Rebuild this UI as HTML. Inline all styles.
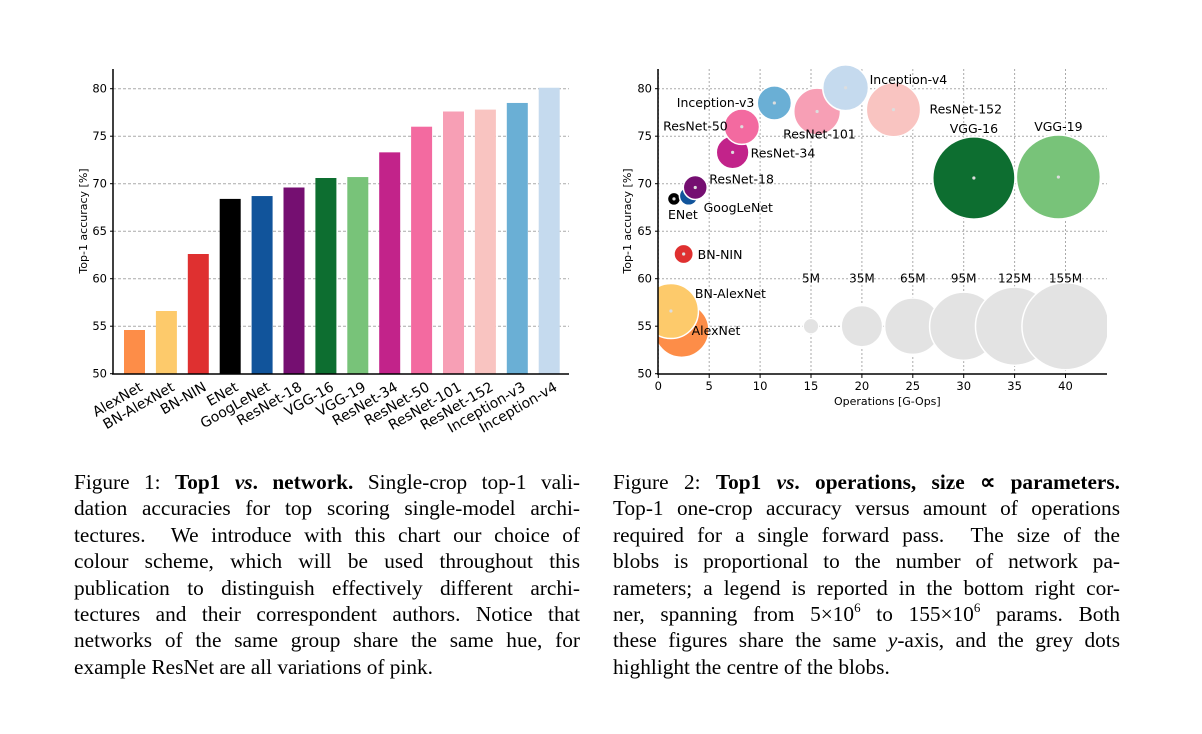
<!DOCTYPE html>
<html><head><meta charset="utf-8">
<style>
html,body{margin:0;padding:0;background:#fff;}
body{width:1202px;height:734px;position:relative;overflow:hidden;}
svg{position:absolute;left:0;top:0;}
svg text{font-family:"DejaVu Sans","Liberation Sans",sans-serif;fill:#000;}
.cap{position:absolute;top:469px;font-family:"Liberation Serif",serif;font-size:21.3px;line-height:26.4px;color:#000;}
.cap div{text-align:justify;text-align-last:justify;white-space:nowrap;height:26.4px;}
.cap div.last{text-align-last:left;}
.cap sup{font-size:13px;line-height:0;vertical-align:9px;}
</style></head><body>
<svg id="chart" width="1202" height="734"></svg>
<div class="cap" style="left:74px;width:506px">
<div>Figure 1: <b>Top1 <i>vs</i>. network.</b> Single-crop top-1 vali-</div>
<div>dation accuracies for top scoring single-model archi-</div>
<div>tectures. &nbsp;We introduce with this chart our choice of</div>
<div>colour scheme, which will be used throughout this</div>
<div>publication to distinguish effectively different archi-</div>
<div>tectures and their correspondent authors. Notice that</div>
<div>networks of the same group share the same hue, for</div>
<div class="last">example ResNet are all variations of pink.</div>
</div>
<div class="cap" style="left:613px;width:507px">
<div>Figure 2: <b>Top1 <i>vs</i>. operations, size ∝ parameters.</b></div>
<div>Top-1 one-crop accuracy versus amount of operations</div>
<div>required for a single forward pass. &nbsp;The size of the</div>
<div>blobs is proportional to the number of network pa-</div>
<div>rameters; a legend is reported in the bottom right cor-</div>
<div>ner, spanning from 5×10<sup>6</sup> to 155×10<sup>6</sup> params. Both</div>
<div>these figures share the same <i>y</i>-axis, and the grey dots</div>
<div class="last">highlight the centre of the blobs.</div>
</div>
<script>
const names=["AlexNet","BN-AlexNet","BN-NIN","ENet","GoogLeNet","ResNet-18","VGG-16","VGG-19","ResNet-34","ResNet-50","ResNet-101","ResNet-152","Inception-v3","Inception-v4"];
const accuracy=[54.6,56.6,62.6,68.4,68.7,69.6,70.6,70.7,73.3,76.0,77.6,77.8,78.5,80.1];
const ops=[2.29,1.24,2.49,1.54,2.98,3.63,31.0,39.3,7.3,8.2,15.6,23.1,11.4,18.4];
const params=[61,62,7.6,3,7,11.7,138,144,21.8,25.6,44.5,60,23.8,42.7];
const colors=["#fd8d48","#fdca6b","#df3030","#000000","#11549b","#750f71","#0d6e30","#78c379","#c2238a","#f36aa0","#f79fb5","#f9c4c1","#6aafd5","#c5daee"];
const yTicks=[50,55,60,65,70,75,80];
const xTicks=[0,5,10,15,20,25,30,35,40];
const legendParams=[5,35,65,95,125,155];
const legendOps=[15,20,25,30,35,40];
const legendAcc=55;
const lblOff={"AlexNet":[10,5,"start"],"BN-AlexNet":[24,-13,"start"],"BN-NIN":[14,5,"start"],"ENet":[-6,20,"start"],"GoogLeNet":[15,16,"start"],"ResNet-18":[14,-4,"start"],"VGG-16":[0,-45,"middle"],"VGG-19":[0,-46,"middle"],"ResNet-34":[18,5,"start"],"ResNet-50":[-14,4,"end"],"ResNet-101":[-34,27,"start"],"ResNet-152":[36,4,"start"],"Inception-v3":[-20,4,"end"],"Inception-v4":[24,-4,"start"]};
const NS="http://www.w3.org/2000/svg";
const svg=document.getElementById("chart");
function el(t,a,p){const e=document.createElementNS(NS,t);for(const k in a)e.setAttribute(k,a[k]);(p||svg).appendChild(e);return e;}
function yS(v){return 373.7-(v-50)*9.5;}
// ---- chart 1
const g1=el("g",{});


function xB(i){return 124+i*31.9;}
yTicks.forEach(t=>{
  if(t>50){const l=el("line",{x1:113,x2:569,y1:yS(t),y2:yS(t),stroke:"#aaa","stroke-width":1,"stroke-dasharray":"3,2"},g1);
  }
  const tx=el("text",{x:107,y:yS(t)+4,"font-size":11.5,"text-anchor":"end"},g1);tx.textContent=t;
  
  el("line",{x1:110,x2:113,y1:yS(t),y2:yS(t),stroke:"#000"},g1);
});
names.forEach((n,i)=>{
  const r=el("rect",{x:xB(i),y:yS(accuracy[i]),width:21,height:yS(50)-yS(accuracy[i]),fill:colors[i]},g1);
  
  const cx=xB(i)+10.5;
  const t=el("text",{x:cx+9,y:yS(50)+16,"font-size":14,"text-anchor":"end",transform:`rotate(-30 ${cx+9} ${yS(50)+16})`},g1);t.textContent=n;
  
});
el("line",{x1:113,x2:113,y1:69,y2:374.5,stroke:"#000","stroke-width":1.5},g1);
el("line",{x1:112,x2:569,y1:374,y2:374,stroke:"#000","stroke-width":1.5},g1);
const yl1=el("text",{x:0,y:0,"font-size":11,"text-anchor":"middle",transform:"translate(87,221) rotate(-90)"},g1);yl1.textContent="Top-1 accuracy [%]";

// ---- chart 2
const g2=el("g",{});


function xS(v){return 658.3+v*10.18;}
function rS(p){return 3.5*Math.sqrt(p);}
const cp=el("clipPath",{id:"cp"},g2);el("rect",{x:658,y:60,width:449,height:314},cp);
xTicks.forEach(t=>{
  const l=el("line",{x1:xS(t),x2:xS(t),y1:69,y2:374,stroke:"#aaa","stroke-dasharray":"2,2"},g2);
  
  el("line",{x1:xS(t),x2:xS(t),y1:374,y2:378,stroke:"#000"},g2);
  const tx=el("text",{x:xS(t),y:390,"font-size":11.5,"text-anchor":"middle"},g2);tx.textContent=t;
  
});
yTicks.forEach(t=>{
  if(t>50){const l=el("line",{x1:658,x2:1107,y1:yS(t),y2:yS(t),stroke:"#aaa","stroke-dasharray":"2,2"},g2);
  }
  el("line",{x1:655,x2:658,y1:yS(t),y2:yS(t),stroke:"#000"},g2);
  const tx=el("text",{x:652,y:yS(t)+4,"font-size":11.5,"text-anchor":"end"},g2);tx.textContent=t;
  
});
const bg=el("g",{"clip-path":"url(#cp)"},g2);
legendParams.forEach((p,i)=>{
  const c=el("circle",{cx:xS(legendOps[i]),cy:yS(legendAcc),r:rS(p),fill:"#e3e3e3",stroke:"#fff","stroke-width":1.5},bg);
  
  const t=el("text",{x:xS(legendOps[i]),y:yS(60)+4,"font-size":12,"text-anchor":"middle"},g2);t.textContent=p+"M";
  
});
names.forEach((n,i)=>{
  const cx=xS(ops[i]),cy=yS(accuracy[i]);
  const c=el("circle",{cx:cx,cy:cy,r:n==="ENet"?6.5:rS(params[i]),fill:colors[i],stroke:"#fff","stroke-width":1.5},bg);
  
  el("circle",{cx:cx,cy:cy,r:1.6,fill:"#ddd"},bg);
});
names.forEach((n,i)=>{
  const cx=xS(ops[i]),cy=yS(accuracy[i]);const o=lblOff[n];
  const t=el("text",{x:cx+o[0],y:cy+o[1],"font-size":12.5,"text-anchor":o[2]},g2);t.textContent=n;
  
});
el("line",{x1:658,x2:658,y1:69,y2:374.5,stroke:"#000","stroke-width":1.5},g2);
el("line",{x1:657,x2:1107,y1:374,y2:374,stroke:"#000","stroke-width":1.5},g2);
const yl2=el("text",{x:0,y:0,"font-size":11,"text-anchor":"middle",transform:"translate(631,221) rotate(-90)"},g2);yl2.textContent="Top-1 accuracy [%]";

const xl2=el("text",{x:xS(22.5),y:405,"font-size":11,"text-anchor":"middle"},g2);xl2.textContent="Operations [G-Ops]";

</script>
</body></html>
